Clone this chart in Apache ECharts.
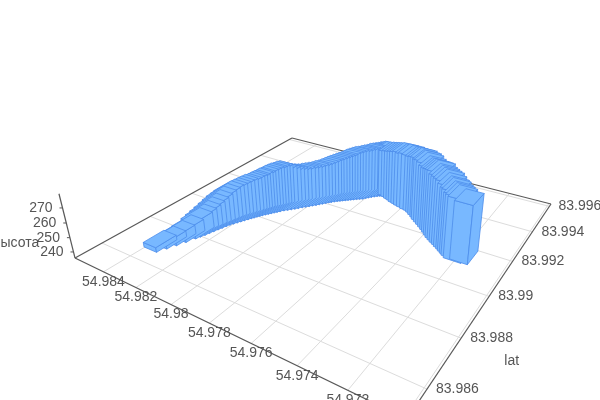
<!DOCTYPE html>
<html><head><meta charset="utf-8">
<style>html,body{margin:0;padding:0;background:#fff}#c{width:600px;height:400px}</style>
<script src="https://cdn.jsdelivr.net/npm/echarts@6/dist/echarts.min.js"></script>
</head><body><div id="c"></div>
<script>
// ---- data ----
var lonTicks = [54.984,54.982,54.98,54.978,54.976,54.974,54.972,54.97];
var lonTickLabels = ['54.984','54.982','54.98','54.978','54.976','54.974','54.972','54.97'];
var latTicks = [83.996,83.994,83.992,83.99,83.988,83.986];
var latTickLabels = ['83.996','83.994','83.992','83.99','83.988','83.986'];
var heightTicks = [240,250,260,270];
var heightTickLabels = ['240','250','260','270'];
var lonRange = [54.9699,54.9859];
var latRange = [83.9850,83.9962];
var heightRange = [235.7,279.2];
var lon = [
54.98364,54.98345,54.98328,54.98312,54.98296,
54.98289,54.98282,54.98276,54.98270,54.98264,
54.98258,54.98252,54.98246,54.98238,54.98230,
54.98222,54.98214,54.98206,54.98199,54.98192,
54.98186,54.98179,54.98172,54.98164,54.98156,
54.98148,54.98140,54.98132,54.98123,54.98112,
54.98100,54.98088,54.98077,54.98066,54.98054,
54.98043,54.98032,54.98021,54.98010,54.98000,
54.97990,54.97980,54.97971,54.97962,54.97952,
54.97942,54.97932,54.97922,54.97912,54.97902,
54.97892,54.97881,54.97870,54.97858,54.97846,
54.97837,54.97828,54.97818,54.97808,54.97798,
54.97788,54.97778,54.97768,54.97759,54.97750,
54.97726,54.97705,54.97684,54.97665,54.97646,54.97627,54.97608,54.97588,54.97566,54.97544,54.97524,54.97505,54.97486,54.97470,54.97451,54.97432,54.97414,54.97396,54.97379,54.97361,54.97345,54.97329,54.97313,54.97297,54.97281,54.97265,54.97252,54.97238,54.97225,54.97209,54.97182];
var lat = [
83.98700,83.98730,83.98760,83.98790,83.98822,
83.98838,83.98854,83.98870,83.98886,83.98902,
83.98917,83.98932,83.98946,83.98958,83.98970,
83.98982,83.98994,83.99006,83.99017,83.99026,
83.99036,83.99045,83.99054,83.99063,83.99072,
83.99081,83.99090,83.99099,83.99108,83.99120,
83.99130,83.99140,83.99150,83.99160,83.99172,
83.99182,83.99192,83.99202,83.99212,83.99222,
83.99232,83.99242,83.99252,83.99259,83.99268,
83.99276,83.99283,83.99290,83.99297,83.99304,
83.99311,83.99318,83.99326,83.99333,83.99340,
83.99350,83.99359,83.99368,83.99377,83.99385,
83.99392,83.99397,83.99401,83.99404,83.99405,
83.99402,83.99396,83.99388,83.99382,83.99374,83.99369,83.99363,83.99358,83.99352,83.99348,83.99340,83.99329,83.99318,83.99306,83.99295,83.99284,83.99273,83.99262,83.99250,83.99237,83.99226,83.99217,83.99208,83.99200,83.99191,83.99183,83.99175,83.99167,83.99159,83.99150,83.99154];
var height = [
239,240,242,244,247,
248.5,250,251.5,253,254.5,
256,257,258,258.5,259,
259.5,260,260,260.5,261,
261,262,262,263,263.5,
264,264,264.5,264.5,263,
262,261,260.5,260,260,
260,260,260,260.5,260.5,
261,261.5,262,262.5,263,
263.5,264,264.5,265,266,
266.5,267,267.5,267.5,268,
268,268,268.5,268.5,268.5,
268.5,269,269,269.5,269.5,
270,271,272,273,274,275,275,276,276,276,277,278,278,279,279,278,278,279,280,281,280,280,280,280,279,278,278,277,277,277,275];
var barHalfLon = 0.0004, barHalfLat = 0.00043;

// ---- camera: floor corners on the page and the vertical vanishing point ----
var cornerA=[75,258], cornerB=[407,419], cornerC=[292,138], cornerD=[551,204], vanish=[355,1380], zScale=0.001245;
var dx1=cornerB[0]-cornerD[0],dx2=cornerC[0]-cornerD[0],sx=cornerA[0]-cornerB[0]+cornerD[0]-cornerC[0];
var dy1=cornerB[1]-cornerD[1],dy2=cornerC[1]-cornerD[1],sy=cornerA[1]-cornerB[1]+cornerD[1]-cornerC[1];
var den=dx1*dy2-dx2*dy1, g=(sx*dy2-dx2*sy)/den, h=(dx1*sy-sx*dy1)/den;
var a=cornerB[0]-cornerA[0]+g*cornerB[0], b=cornerC[0]-cornerA[0]+h*cornerC[0];
var d=cornerB[1]-cornerA[1]+g*cornerB[1], e=cornerC[1]-cornerA[1]+h*cornerC[1];
function depth(lo,la){var u=(lonRange[1]-lo)/(lonRange[1]-lonRange[0]),v=(la-latRange[0])/(latRange[1]-latRange[0]);return g*u+h*v+1;}
function project(lo,la,z){
  var u=(lonRange[1]-lo)/(lonRange[1]-lonRange[0]),v=(la-latRange[0])/(latRange[1]-latRange[0]);
  var k=-(z-heightRange[0])*zScale;
  var X=a*u+b*v+cornerA[0]+k*vanish[0],Y=d*u+e*v+cornerA[1]+k*vanish[1],W=g*u+h*v+1+k;
  return [X/W,Y/W];
}

// ---- rows for the series ----
var barRows=lon.map(function(l,i){return [l,lat[i],height[i]];}).sort(function(p,q){return depth(q[0],q[1])-depth(p[0],p[1]);});
var gridRows=[];
lonTicks.forEach(function(t){gridRows.push([t,latRange[0],heightRange[0],t,latRange[1],heightRange[0]]);});
latTicks.forEach(function(t){gridRows.push([lonRange[0],t,heightRange[0],lonRange[1],t,heightRange[0]]);});
var axisRows=[
 [lonRange[1],latRange[0],heightRange[0],lonRange[0],latRange[0],heightRange[0]],
 [lonRange[1],latRange[0],heightRange[0],lonRange[1],latRange[1],heightRange[0]],
 [lonRange[1],latRange[1],heightRange[0],lonRange[0],latRange[1],heightRange[0]],
 [lonRange[0],latRange[1],heightRange[0],lonRange[0],latRange[0],heightRange[0]],
 [lonRange[1],latRange[0],heightRange[0],lonRange[1],latRange[0],heightRange[1]]
];
var labelRows=[];
lonTicks.forEach(function(t,i){labelRows.push([t,latRange[0],heightRange[0],lonTickLabels[i],0,10,'center']);});
latTicks.forEach(function(t,i){labelRows.push([lonRange[0],t,heightRange[0],latTickLabels[i],9,0,'left']);});
heightTicks.forEach(function(t,i){labelRows.push([lonRange[1],latRange[0],t,heightTickLabels[i],-10,0,'right']);});
labelRows.push([lonRange[1],latRange[0],246.5,'высота',-32,0,'right']);
labelRows.push([lonRange[0],83.9872,heightRange[0],'lat',56,4,'left']);

function pt(api,lo,la,z){return api.coord(project(lo,la,z));}
function lineSeries(rows,color,width,z){
  return {type:'custom',coordinateSystem:'cartesian2d',silent:true,z:z,data:rows,encode:{x:0,y:1},clip:false,
    renderItem:function(p,api){
      var A=pt(api,api.value(0),api.value(1),api.value(2)),B=pt(api,api.value(3),api.value(4),api.value(5));
      return {type:'line',shape:{x1:A[0],y1:A[1],x2:B[0],y2:B[1]},style:{stroke:color,lineWidth:width,fill:null}};
    }};
}
var faceColor='#78b8ff', edgeColor='#4d8deb';
var option={
  animation:false,backgroundColor:'#fff',
  grid:{left:0,right:0,top:0,bottom:0},
  xAxis:{type:'value',min:0,max:600,show:false},
  yAxis:{type:'value',min:0,max:400,inverse:true,show:false},
  series:[
    lineSeries(gridRows,'#dcdcdc',1,1),
    lineSeries(axisRows,'#595959',1.2,2),
    {type:'custom',coordinateSystem:'cartesian2d',silent:true,z:2,data:heightTicks.map(function(t){return [t];}),clip:false,
     renderItem:function(p,api){
       var A=pt(api,lonRange[1],latRange[0],api.value(0));
       return {type:'line',shape:{x1:A[0],y1:A[1],x2:A[0]-3,y2:A[1]},style:{stroke:'#595959',lineWidth:1}};
     }},
    {type:'custom',name:'высота',coordinateSystem:'cartesian2d',silent:true,z:3,data:barRows,clip:false,
     renderItem:function(p,api){
       var lo=api.value(0),la=api.value(1),zz=api.value(2),z0=heightRange[0];
       var l0=lo+barHalfLon,l1=lo-barHalfLon,a0=la-barHalfLat,a1=la+barHalfLat;
       function poly(pts){return {type:'polygon',shape:{points:pts},style:{fill:faceColor,stroke:edgeColor,lineWidth:0.8,lineJoin:'round'}};}
       return {type:'group',children:[
         poly([pt(api,l0,a0,z0),pt(api,l1,a0,z0),pt(api,l1,a0,zz),pt(api,l0,a0,zz)]),
         poly([pt(api,l1,a0,z0),pt(api,l1,a1,z0),pt(api,l1,a1,zz),pt(api,l1,a0,zz)]),
         poly([pt(api,l0,a0,zz),pt(api,l1,a0,zz),pt(api,l1,a1,zz),pt(api,l0,a1,zz)])
       ]};
     }},
    {type:'custom',coordinateSystem:'cartesian2d',silent:true,z:4,data:labelRows.map(function(r,i){return [r[0],r[1],r[2],i];}),clip:false,
     renderItem:function(p,api){
       var r=labelRows[api.value(3)],A=pt(api,r[0],r[1],r[2]);
       return {type:'text',x:A[0]+r[4],y:A[1]+r[5],style:{text:r[3],fill:'#555',font:'14px "Liberation Sans",Arial,sans-serif',textAlign:r[6],textVerticalAlign:'middle'}};
     }}
  ]
};
echarts.init(document.getElementById('c'),null,{renderer:'canvas'}).setOption(option);
</script></body></html>
